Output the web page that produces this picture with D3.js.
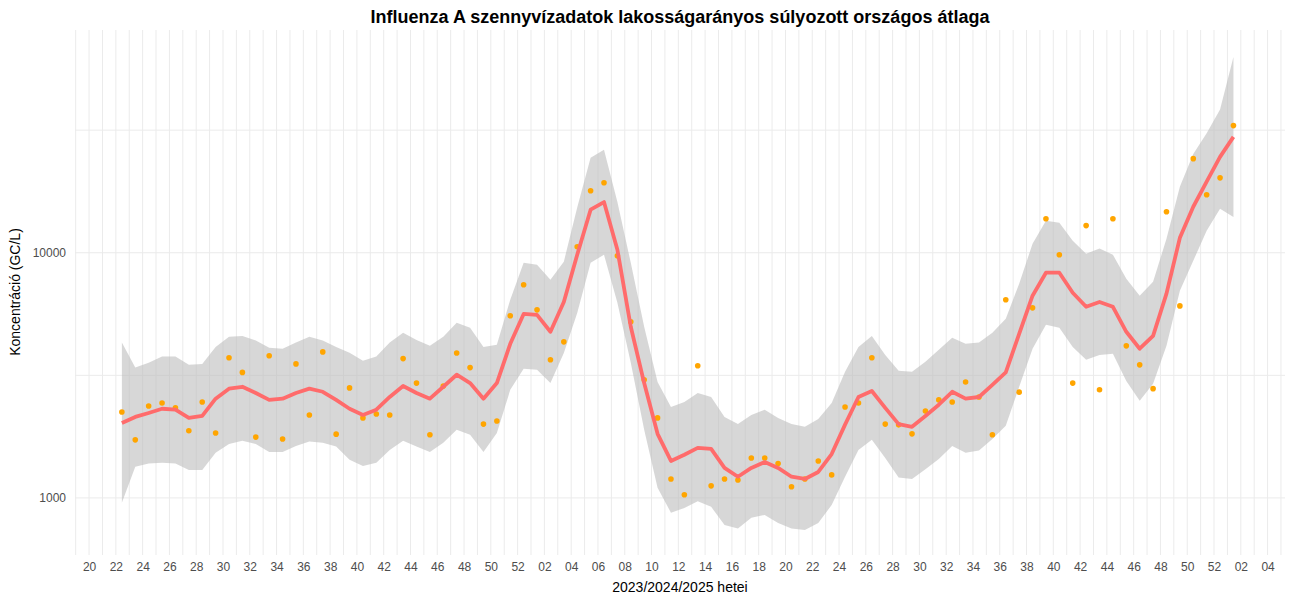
<!DOCTYPE html>
<html>
<head>
<meta charset="utf-8">
<script src="https://cdn.jsdelivr.net/npm/d3@7"></script>
<style>
body{margin:0;background:#fff;font-family:"Liberation Sans",Arial,sans-serif;}
</style>
</head>
<body>
<svg id="chart" width="1300" height="600"></svg>
<script>
// week tick labels, every second week from 2023 w20 to 2025 w04
var tickLabels = ['20','22','24','26','28','30','32','34','36','38','40','42','44','46','48','50','52',
  '02','04','06','08','10','12','14','16','18','20','22','24','26','28','30','32','34','36','38','40','42','44','46','48','50','52',
  '02','04'];
// measured samples (orange points)
var measured = [2240,1725,2370,2440,2330,1880,2460,1840,3730,3250,1770,3800,1740,3520,2180,3940,1820,2810,2120,2200,
  2180,3700,2940,1810,2860,3900,3400,2000,2060,5530,7400,5850,3660,4330,10580,17900,19300,9720,5230,3030,
  2120,1195,1030,3460,1120,1195,1184,1455,1455,1380,1110,1195,1415,1241,2350,2440,3730,2000,1986,1825,
  2260,2510,2460,2970,2580,1810,6430,2700,5960,13760,9810,2940,12900,2760,13760,4170,3490,2790,14700,6070,
  24200,17240,20200,33000];
// weighted national mean (red line)
var average = [2020,2140,2220,2310,2290,2120,2160,2540,2790,2840,2680,2510,2540,2680,2790,2710,2510,2310,2180,2290,
  2580,2860,2680,2540,2840,3180,2940,2540,2940,4250,5630,5580,4760,6300,9810,14980,16100,10280,4990,2940,
  1825,1415,1500,1600,1585,1325,1220,1325,1400,1325,1220,1195,1276,1510,1990,2580,2730,2330,2000,1950,
  2160,2400,2710,2540,2580,2890,3250,4670,6680,8290,8290,6870,6020,6300,6020,4760,4060,4580,6810,11500,
  15400,19500,24600,29700];
// confidence band
var upper = [4300,3400,3560,3770,3770,3490,3520,4130,4540,4580,4390,4100,4060,4300,4540,4390,4130,3910,3630,3770,
  4300,4720,4410,4170,4540,5180,4940,4130,4210,6430,9100,8930,7760,9190,15300,24400,26300,16100,9100,4990,
  2970,2350,2460,2680,2580,2140,2000,2180,2290,2120,2000,1950,2100,2440,3270,4130,4580,3830,3300,3270,
  3590,4020,4500,4250,4300,4720,5380,7470,10880,13500,13250,11200,9900,10400,9810,7830,6680,7620,11400,18600,
  25300,30700,38400,62900];
var lower = [955,1340,1380,1390,1380,1300,1300,1530,1660,1710,1660,1540,1540,1630,1700,1680,1620,1430,1350,1390,
  1570,1710,1620,1540,1680,1895,1810,1540,1840,2760,3360,3330,2940,3900,5680,9100,9810,6250,3560,1895,
  1100,870,910,970,920,776,750,830,852,790,750,740,790,936,1220,1570,1725,1455,1210,1195,
  1310,1440,1630,1530,1560,1740,1970,2840,4060,5080,4940,4130,3660,3830,3870,3000,2490,2920,4170,7000,
  9270,12300,15100,14000];
var firstWeek = 2.45; // first sample sits a bit after week 22 of 2023

var svg = d3.select('#chart');
var x = d3.scaleLinear().domain([-1.05, 89.3]).range([75, 1285]);
var y = d3.scaleLog().domain([585, 81000]).range([555, 30]);

var grid = svg.append('g').attr('class', 'grid');
grid.selectAll('.vline').data(d3.range(-1, 90)).enter().append('line')
  .attr('x1', function(d){return x(d);}).attr('x2', function(d){return x(d);})
  .attr('y1', 30).attr('y2', 555).attr('stroke', '#ebebeb').attr('stroke-width', 1);
grid.selectAll('.hline').data([1000, 3162, 10000, 31623]).enter().append('line')
  .attr('x1', 75).attr('x2', 1285)
  .attr('y1', function(d){return y(d);}).attr('y2', function(d){return y(d);})
  .attr('stroke', '#ebebeb').attr('stroke-width', 1);

var rows = measured.map(function(v, i){
  return {w: firstWeek + i, v: v, m: average[i], lo: lower[i], hi: upper[i]};
});

svg.append('path').datum(rows)
  .attr('fill', '#bdbdbd').attr('fill-opacity', 0.6)
  .attr('d', d3.area().x(function(d){return x(d.w);}).y0(function(d){return y(d.lo);}).y1(function(d){return y(d.hi);}));

svg.append('g').selectAll('circle').data(rows).enter().append('circle')
  .attr('cx', function(d){return x(d.w);}).attr('cy', function(d){return y(d.v);})
  .attr('r', 2.8).attr('fill', '#ffa500');

svg.append('path').datum(rows)
  .attr('fill', 'none').attr('stroke', '#ff6b6b').attr('stroke-width', 3.8).attr('stroke-linejoin', 'round')
  .attr('d', d3.line().x(function(d){return x(d.w);}).y(function(d){return y(d.m);}));

// axes
var xAxis = svg.append('g').attr('transform', 'translate(0,558)')
  .call(d3.axisBottom(x).tickValues(d3.range(0, 89, 2)).tickSize(0).tickPadding(4)
    .tickFormat(function(d, i){return tickLabels[i];}));
var yAxis = svg.append('g').attr('transform', 'translate(70,0)')
  .call(d3.axisLeft(y).tickValues([1000, 10000]).tickSize(0).tickPadding(4).tickFormat(d3.format('d')));
[xAxis, yAxis].forEach(function(a){
  a.select('.domain').remove();
  a.selectAll('text').attr('fill', '#4d4d4d').style('font-size', '12px').style('font-family', 'Liberation Sans, Arial, sans-serif');
});

svg.append('text').attr('x', 680).attr('y', 23).attr('text-anchor', 'middle')
  .style('font-size', '18px').style('font-weight', 'bold').text('Influenza A szennyvízadatok lakosságarányos súlyozott országos átlaga');
svg.append('text').attr('x', 680).attr('y', 592).attr('text-anchor', 'middle')
  .style('font-size', '14px').text('2023/2024/2025 hetei');
svg.append('text').attr('transform', 'translate(20,292) rotate(-90)').attr('text-anchor', 'middle')
  .style('font-size', '14px').text('Koncentráció (GC/L)');
</script>
</body>
</html>
